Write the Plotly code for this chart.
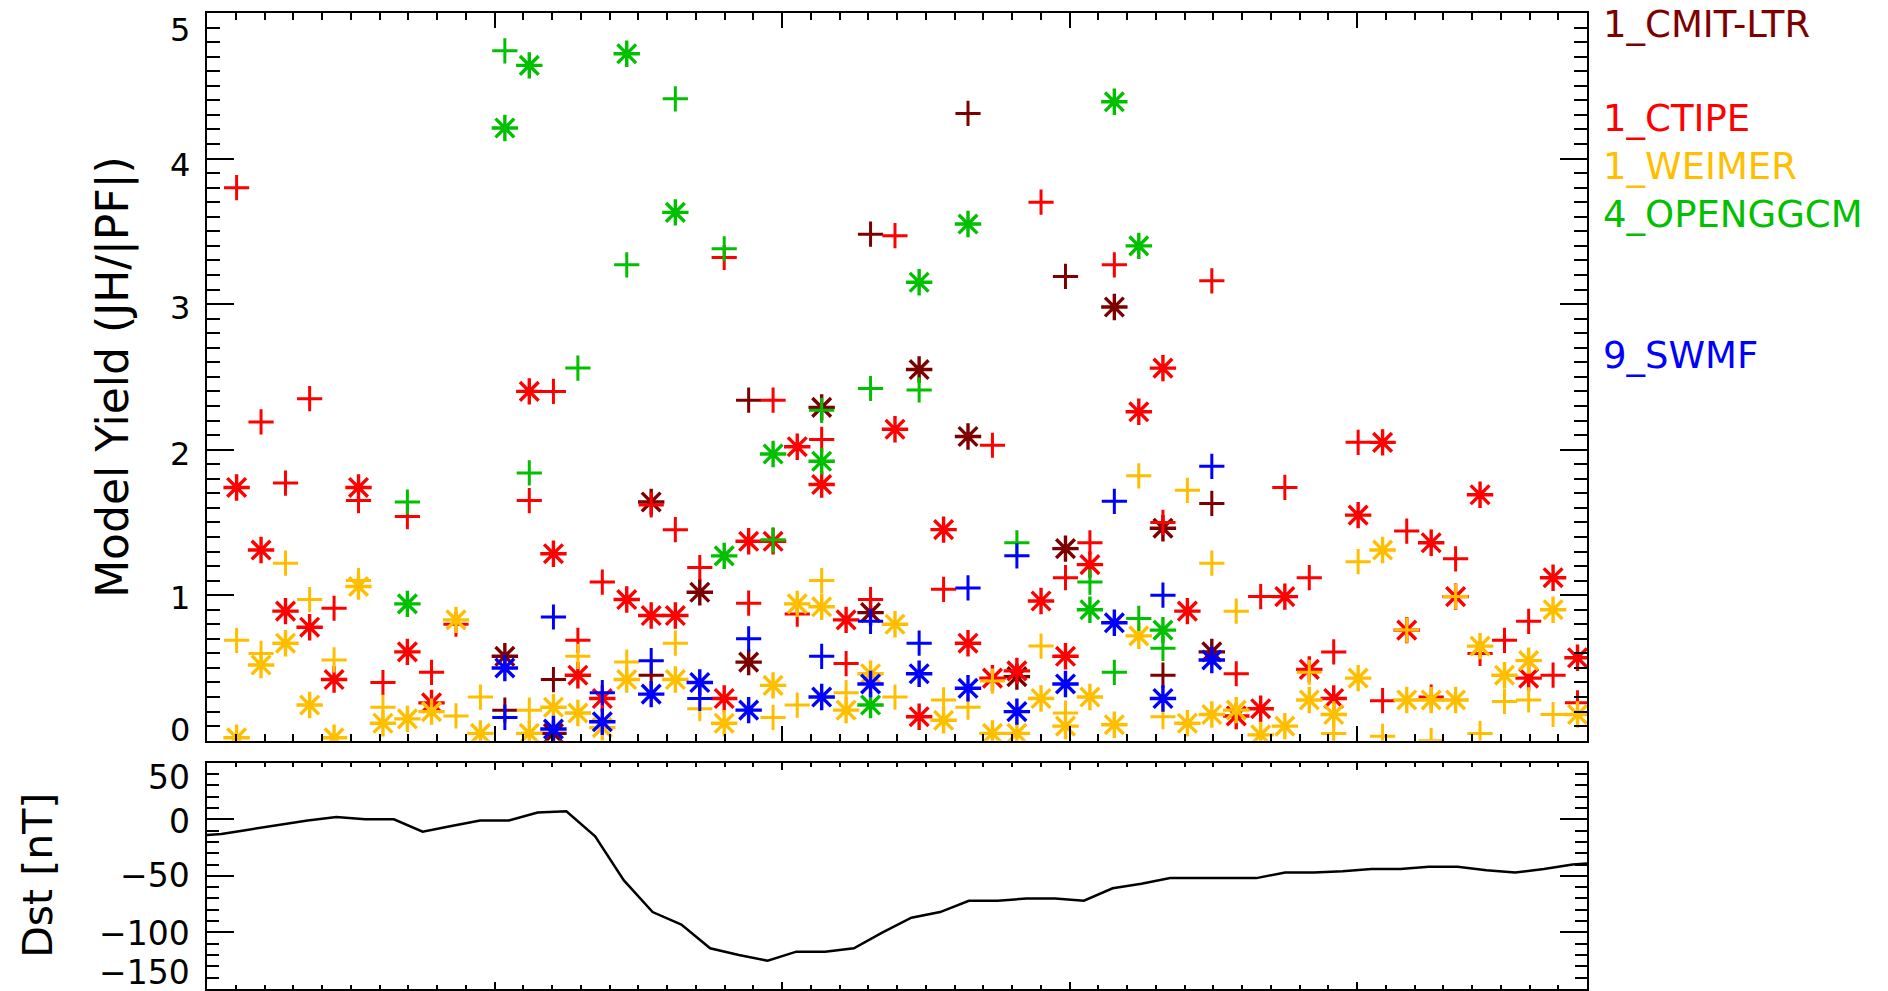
import plotly.graph_objects as go

# ---------------- data ----------------
# hours of each comparison event (x positions)
event_hours = [1.03, 1.88, 2.73, 3.57, 4.42, 5.27, 6.12, 6.97, 7.81, 8.66,
               9.51, 10.36, 11.21, 12.05, 12.90, 13.75, 14.60, 15.45, 16.29, 17.14,
               17.99, 18.84, 19.69, 20.53, 21.38, 22.23, 23.08, 23.93, 24.77, 25.62,
               26.47, 27.32, 28.17, 29.01, 29.86, 30.71, 31.56, 32.41, 33.25, 34.10,
               34.95, 35.80, 36.65, 37.49, 38.34, 39.19, 40.04, 40.89, 41.73, 42.58,
               43.43, 44.28, 45.13, 45.97, 46.82, 47.67]

# 1_CMIT-LTR
cmit_plus_idx = [11, 13, 17, 21, 26, 30, 34, 38, 40]
cmit_plus_val = [0.21, 0.42, 0.45, 2.34, 3.48, 4.31, 3.19, 0.45, 1.63]
cmit_star_idx = [11, 13, 17, 19, 21, 24, 26, 28, 30, 32, 34, 36, 38, 40]
cmit_star_val = [0.58, 0.05, 1.64, 1.02, 0.54, 2.29, 0.88, 2.55, 2.09, 0.44, 1.32, 2.98, 1.46, 0.61]

# 1_CTIPE
ctipe_plus_idx = [0, 1, 2, 3, 4, 5, 6, 7, 8, 9, 12, 13, 14, 15, 17, 18, 19, 20, 21, 22,
                  23, 24, 25, 26, 27, 29, 31, 33, 34, 35, 36, 38, 40, 41, 42, 43, 44, 45,
                  46, 47, 48, 49, 50, 51, 52, 53, 54, 55]
ctipe_plus_val = [3.80, 2.19, 1.77, 2.35, 0.91, 1.65, 0.40, 1.54, 0.47, 0.80, 1.65, 2.40, 0.69, 1.09,
                  1.62, 1.45, 1.19, 3.32, 0.945, 2.34, 0.87, 2.07, 0.53, 0.97, 3.47, 1.04, 2.03,
                  3.70, 1.12, 1.36, 3.27, 1.50, 3.16, 0.46, 0.99, 1.74, 1.12, 0.61, 2.05, 0.275,
                  1.44, 0.30, 1.25, 0.60, 0.69, 0.82, 0.45, 0.26]
ctipe_star_idx = [0, 1, 2, 3, 4, 5, 7, 8, 12, 13, 14, 15, 16, 17, 18, 20, 21, 22, 23, 24,
                  25, 27, 28, 29, 30, 31, 32, 33, 34, 35, 37, 38, 39, 41, 42, 43, 44, 45, 46,
                  47, 48, 49, 50, 51, 53, 54, 55]
ctipe_star_val = [1.74, 1.31, 0.89, 0.78, 0.42, 1.74, 0.61, 0.26, 2.40, 1.285, 0.45, 0.29, 0.97,
                  0.86, 0.86, 0.29, 1.37, 1.37, 2.02, 1.76, 0.83, 2.14, 0.165, 1.45, 0.67, 0.43,
                  0.48, 0.96, 0.58, 1.21, 2.26, 2.56, 0.89, 0.17, 0.22, 0.99, 0.49, 0.29, 1.55,
                  2.05, 0.76, 1.36, 0.99, 1.69, 0.43, 1.12, 0.57]

# 1_WEIMER
weimer_plus_idx = [0, 1, 2, 3, 4, 5, 6, 9, 10, 12, 14, 16, 18, 19, 22, 23, 24, 25, 27, 29,
                   30, 31, 33, 34, 37, 38, 39, 40, 41, 44, 45, 46, 47, 48, 49, 50, 51, 52, 53, 54]
weimer_plus_val = [0.69, 0.60, 1.22, 0.97, 0.555, 1.10, 0.23, 0.17, 0.30, 0.21, 0.58, 0.54, 0.67,
                   0.22, 0.16, 0.245, 1.10, 0.33, 0.30, 0.28, 0.23, 0.41, 0.65, 0.19, 1.82, 0.165,
                   1.72, 1.22, 0.89, 0.47, 0.05, 1.23, 0.03, 0.76, 0.0, 0.99, 0.05, 0.27, 0.28, 0.18]
weimer_star_idx = [0, 1, 2, 3, 4, 5, 6, 7, 8, 9, 10, 12, 13, 14, 15, 16, 18, 20, 22, 23, 24,
                   25, 26, 27, 29, 31, 32, 33, 34, 35, 36, 37, 39, 40, 41, 42, 43, 44, 45, 46,
                   47, 48, 49, 50, 51, 52, 53, 54, 55]
weimer_star_val = [0.02, 0.52, 0.67, 0.245, 0.02, 1.06, 0.12, 0.15, 0.20, 0.83, 0.05, 0.05, 0.23,
                   0.19, 0.09, 0.42, 0.42, 0.12, 0.38, 0.94, 0.92, 0.21, 0.46, 0.80, 0.14, 0.05,
                   0.05, 0.29, 0.10, 0.30, 0.11, 0.72, 0.12, 0.18, 0.21, 0.04, 0.10, 0.28, 0.18,
                   0.43, 1.31, 0.28, 0.28, 0.28, 0.65, 0.45, 0.55, 0.90, 0.18]

# 4_OPENGGCM
openggcm_plus_idx = [7, 11, 12, 14, 16, 18, 20, 22, 24, 26, 28, 32, 35, 36, 37, 38]
openggcm_plus_val = [1.64, 4.74, 1.84, 2.56, 3.27, 4.41, 3.38, 1.38, 2.27, 2.42, 2.41, 1.36, 1.09,
                     0.47, 0.84, 0.635]
openggcm_star_idx = [7, 11, 12, 16, 18, 20, 22, 24, 26, 28, 30, 35, 36, 37, 38]
openggcm_star_val = [0.94, 4.21, 4.64, 4.72, 3.63, 1.27, 1.97, 1.92, 0.245, 3.15, 3.55, 0.90, 4.39,
                     3.40, 0.76]

# 9_SWMF
swmf_plus_idx = [11, 13, 15, 17, 19, 21, 24, 26, 28, 30, 32, 36, 38, 40]
swmf_plus_val = [0.16, 0.85, 0.33, 0.55, 0.29, 0.70, 0.58, 0.82, 0.67, 1.05, 1.27, 1.645, 1.0, 1.885]
swmf_star_idx = [11, 13, 15, 17, 19, 21, 24, 26, 28, 30, 32, 34, 36, 38, 40]
swmf_star_val = [0.50, 0.08, 0.13, 0.32, 0.40, 0.21, 0.30, 0.39, 0.46, 0.36, 0.20, 0.39, 0.81,
                 0.29, 0.555]

# Dst index
dst_hours = [0, 0.5, 1.5, 2.5, 3.5, 4.5, 5.5, 6.5, 7.5, 8.5, 9.5, 10.5, 11.5, 12.5, 13.5,
             14.5, 15.5, 16.5, 17.5, 18.5, 19.5, 20.5, 21.5, 22.5, 23.5, 24.5, 25.5, 26.5,
             27.5, 28.5, 29.5, 30.5, 31.5, 32.5, 33.5, 34.5, 35.5, 36.5, 37.5, 38.5, 39.5,
             40.5, 41.5, 42.5, 43.5, 44.5, 45.5, 46.5, 47.5, 48]
dst_values = [-14, -13, -9, -5, -1, 2, 0, 0, -11, -6, -1, -1, 6, 7, -15,
              -54, -82, -93, -114, -120, -125, -117, -117, -114, -100, -87, -82, -72,
              -72, -70, -70, -72, -61, -57, -52, -52, -52, -52, -47, -47, -46,
              -44, -44, -42, -42, -45, -47, -44, -40, -39]

# axis tick labels
yield_ticks = [0, 1, 2, 3, 4, 5]
yield_tick_text = ["0", "1", "2", "3", "4", "5"]
dst_ticks = [50, 0, -50, -100, -150]
dst_tick_text = ["50", "0", "\u221250", "\u2212100", "\u2212150"]

models = [
    ("1_CMIT-LTR", "#7c0000", cmit_plus_idx, cmit_plus_val, cmit_star_idx, cmit_star_val),
    ("1_CTIPE", "#ff0000", ctipe_plus_idx, ctipe_plus_val, ctipe_star_idx, ctipe_star_val),
    ("1_WEIMER", "#ffbf00", weimer_plus_idx, weimer_plus_val, weimer_star_idx, weimer_star_val),
    ("4_OPENGGCM", "#00c000", openggcm_plus_idx, openggcm_plus_val, openggcm_star_idx, openggcm_star_val),
    ("9_SWMF", "#0000ff", swmf_plus_idx, swmf_plus_val, swmf_star_idx, swmf_star_val),
]
legend_y_px = [25, 119, 166, 214, 356]

# ---------------- figure ----------------
FONT = "DejaVu Sans"
fig = go.Figure()

for name, color, pidx, pval, sidx, sval in models:
    fig.add_trace(go.Scatter(
        x=[event_hours[i] for i in pidx], y=pval, mode="markers", name=name + " +",
        marker=dict(symbol="cross-thin-open", size=18, color=color,
                    line=dict(color=color, width=3)),
        xaxis="x", yaxis="y", showlegend=False))
    fig.add_trace(go.Scatter(
        x=[event_hours[i] for i in sidx], y=sval, mode="markers", name=name + " *",
        marker=dict(symbol="asterisk-open", size=22, color=color,
                    line=dict(color=color, width=3.4)),
        xaxis="x", yaxis="y", showlegend=False))

fig.add_trace(go.Scatter(
    x=dst_hours, y=dst_values, mode="lines", line=dict(color="black", width=2.5),
    xaxis="x2", yaxis="y2", showlegend=False))

W, H = 1888, 991
LEFT, RIGHT, TOP, BOTTOM = 207, 1587, 13, 989   # frame edges in the target picture
PW = RIGHT - LEFT
plot_h = BOTTOM - TOP
def py(ypix):
    return (BOTTOM - ypix) / plot_h
def px(xpix):
    return (xpix - LEFT) / PW

top_dom = [py(740.7), 1.0]
bot_dom = [0.0, py(762.7)]

axis_common = dict(showline=True, linecolor="black", linewidth=2, mirror="allticks",
                   showgrid=False, zeroline=False, ticks="inside", tickcolor="black",
                   tickwidth=2, showticklabels=False, automargin=False)

fig.update_layout(
    width=W, height=H,
    margin=dict(l=LEFT, r=W - RIGHT, t=TOP, b=H - BOTTOM, autoexpand=False),
    paper_bgcolor="white", plot_bgcolor="white",
    font=dict(family=FONT, color="black"),
    xaxis=dict(domain=[0, 1], anchor="y", range=[0, 48], tick0=0, dtick=10, ticklen=15,
               minor=dict(dtick=1, ticklen=7, ticks="inside", tickcolor="black", tickwidth=2),
               **axis_common),
    yaxis=dict(domain=top_dom, anchor="x", range=[0, 5], tick0=0, dtick=1, ticklen=27,
               minor=dict(dtick=0.1, ticklen=13, ticks="inside", tickcolor="black", tickwidth=2),
               **axis_common),
    xaxis2=dict(domain=[0, 1], anchor="y2", range=[0, 48], tick0=0, dtick=10, ticklen=7,
                minor=dict(dtick=1, ticklen=4, ticks="inside", tickcolor="black", tickwidth=2),
                **axis_common),
    yaxis2=dict(domain=bot_dom, anchor="x2", range=[-150, 50], tick0=0, dtick=50, ticklen=27,
                minor=dict(dtick=10, ticklen=12, ticks="inside", tickcolor="black", tickwidth=2),
                **axis_common),
)

annotations = []
# tick labels (placed like the original: end labels nudged inside the frame)
yield_shift = [10.7, -2.6, -3.9, -4.2, -6.5, -16.8]
for v, txt, s in zip(yield_ticks, yield_tick_text, yield_shift):
    annotations.append(dict(text=txt, xref="paper", yref="y", x=0, y=v, xshift=-15,
                            yshift=s, xanchor="right", yanchor="middle", showarrow=False,
                            font=dict(size=32, family=FONT, color="black")))
dst_shift = [-14.8, -2.4, 0, -1.1, 17]
for v, txt, s in zip(dst_ticks, dst_tick_text, dst_shift):
    annotations.append(dict(text=txt, xref="paper", yref="y2", x=0, y=v, xshift=-15,
                            yshift=s, xanchor="right", yanchor="middle", showarrow=False,
                            font=dict(size=33, family=FONT, color="black")))
for (name, color, *_), ypix in zip(models, legend_y_px):
    annotations.append(dict(text=name, xref="paper", yref="paper",
                            x=px(1601), y=py(ypix), xanchor="left",
                            yanchor="middle", showarrow=False,
                            font=dict(size=37, color=color, family=FONT)))
annotations.append(dict(text="Model Yield (JH/|PF|)", xref="paper", yref="paper",
                        x=px(113), y=(top_dom[0] + top_dom[1]) / 2,
                        xanchor="center", yanchor="middle", textangle=-90,
                        showarrow=False, font=dict(size=44, family=FONT, color="black")))
annotations.append(dict(text="Dst [nT]", xref="paper", yref="paper",
                        x=px(38), y=(bot_dom[0] + bot_dom[1]) / 2,
                        xanchor="center", yanchor="middle", textangle=-90,
                        showarrow=False, font=dict(size=41, family=FONT, color="black")))
fig.update_layout(annotations=annotations)

# the page's default body margin would shift the figure; remove it so the
# figure fills the browser window exactly
fig.write_html("out.html", config={"displayModeBar": False},
               post_script="document.body.style.margin = '0px';")
